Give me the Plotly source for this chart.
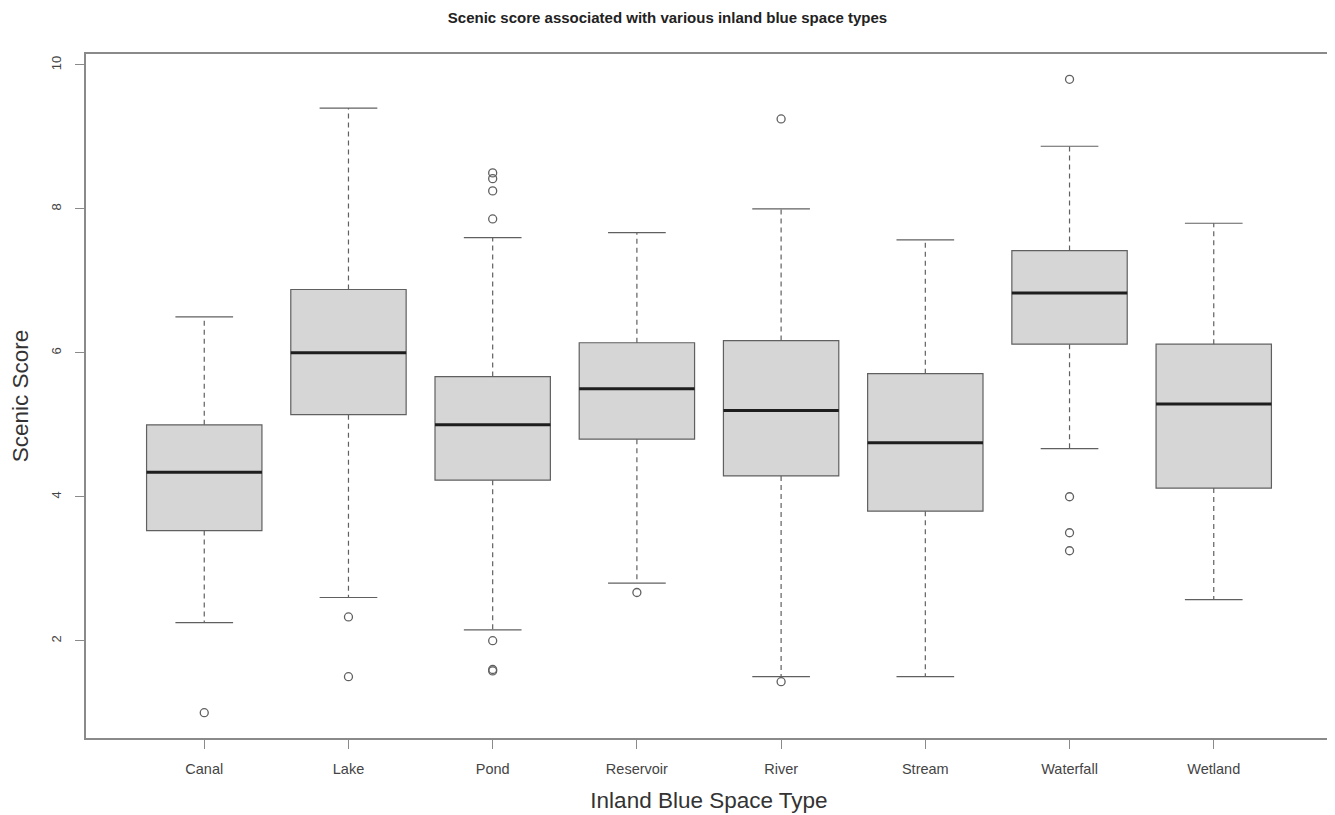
import plotly.graph_objects as go

# ---- data ----
categories = ["Canal", "Lake", "Pond", "Reservoir", "River", "Stream", "Waterfall", "Wetland"]
q1_vals = [3.53, 5.14, 4.23, 4.80, 4.29, 3.80, 6.12, 4.12]
median_vals = [4.34, 6.00, 5.00, 5.50, 5.20, 4.75, 6.83, 5.29]
q3_vals = [5.00, 6.88, 5.67, 6.14, 6.17, 5.71, 7.42, 6.12]
lower_whisker = [2.25, 2.60, 2.15, 2.80, 1.50, 1.50, 4.67, 2.57]
upper_whisker = [6.50, 9.40, 7.60, 7.67, 8.00, 7.57, 8.87, 7.80]

outlier_cat = ["Canal", "Lake", "Lake",
               "Pond", "Pond", "Pond", "Pond", "Pond", "Pond", "Pond",
               "Reservoir", "River", "River",
               "Waterfall", "Waterfall", "Waterfall", "Waterfall"]
outlier_val = [1.00, 2.33, 1.50,
               8.50, 8.42, 8.25, 7.86, 2.00, 1.60, 1.58,
               2.67, 9.25, 1.43,
               9.80, 4.00, 3.50, 3.25]

y_ticks = [2, 4, 6, 8, 10]

# ---- styling ----
FONT = "Liberation Sans, Arial, sans-serif"
BOX_FILL = "#d6d6d6"
EDGE = "#606060"
MED = "#1e1e1e"
BOXWEX = 0.8
STAPLE = 0.4

positions = list(range(1, len(categories) + 1))
pos_of = dict(zip(categories, positions))

fig = go.Figure()

# box bodies
for p, a, m, b in zip(positions, q1_vals, median_vals, q3_vals):
    fig.add_trace(go.Box(
        x=[p], q1=[a], median=[m], q3=[b], lowerfence=[a], upperfence=[b],
        width=BOXWEX, whiskerwidth=0, fillcolor=BOX_FILL,
        line=dict(color=EDGE, width=1.2), boxpoints=False,
        showlegend=False, hoverinfo="skip"))

# dashed whiskers
wx, wy = [], []
for p, a, b, lo, up in zip(positions, q1_vals, q3_vals, lower_whisker, upper_whisker):
    wx += [p, p, None, p, p, None]
    wy += [b, up, None, a, lo, None]
fig.add_trace(go.Scatter(x=wx, y=wy, mode="lines",
                         line=dict(color=EDGE, width=1.2, dash="5px,4px"),
                         showlegend=False, hoverinfo="skip"))

# staples
sx, sy = [], []
for p, lo, up in zip(positions, lower_whisker, upper_whisker):
    sx += [p - STAPLE / 2, p + STAPLE / 2, None, p - STAPLE / 2, p + STAPLE / 2, None]
    sy += [up, up, None, lo, lo, None]
fig.add_trace(go.Scatter(x=sx, y=sy, mode="lines",
                         line=dict(color=EDGE, width=1.2),
                         showlegend=False, hoverinfo="skip"))

# medians
mx, my = [], []
for p, m in zip(positions, median_vals):
    mx += [p - BOXWEX / 2, p + BOXWEX / 2, None]
    my += [m, m, None]
fig.add_trace(go.Scatter(x=mx, y=my, mode="lines",
                         line=dict(color=MED, width=3),
                         showlegend=False, hoverinfo="skip"))

# outliers
fig.add_trace(go.Scatter(x=[pos_of[c] for c in outlier_cat], y=outlier_val,
                         mode="markers",
                         marker=dict(symbol="circle-open", size=8, color=EDGE,
                                     line=dict(width=1.3, color=EDGE)),
                         showlegend=False, hoverinfo="skip"))

# note: the page adds an 8px body margin, so margins are offset by 8px
fig.update_layout(
    width=1335, height=815,
    paper_bgcolor="white", plot_bgcolor="white",
    margin=dict(l=77, r=9, t=46, b=85),
    font=dict(family=FONT, color="#444"),
    title=dict(text="<b>Scenic score associated with various inland blue space types</b>",
               x=0.5 - 8 / 1335, xanchor="center", y=1, yanchor="top",
               yref="container", pad=dict(t=4),
               font=dict(size=15, color="#222", family=FONT)),
)

fig.update_xaxes(
    range=[0.18, 8.82], tickvals=positions, ticktext=categories,
    showgrid=False, zeroline=False,
    showline=True, mirror=True, linecolor="#8a8a8a", linewidth=1.5,
    ticks="outside", ticklen=9, tickcolor="#8a8a8a", tickwidth=1.3,
    ticklabelstandoff=8,
    tickfont=dict(size=14.5, color="#444", family=FONT),
    title=dict(text="Inland Blue Space Type", standoff=16,
               font=dict(size=22.5, color="#333", family=FONT)),
)
fig.update_yaxes(
    range=[0.648, 10.152], tickvals=y_ticks, ticktext=[str(t) for t in y_ticks],
    tickangle=-90,
    showgrid=False, zeroline=False,
    showline=True, mirror=True, linecolor="#8a8a8a", linewidth=1.5,
    ticks="outside", ticklen=9, tickcolor="#8a8a8a", tickwidth=1.3,
    ticklabelstandoff=9,
    tickfont=dict(size=13, color="#444", family=FONT),
    title=dict(text="Scenic Score", standoff=16,
               font=dict(size=22.5, color="#333", family=FONT)),
)

fig.write_html("out.html")
